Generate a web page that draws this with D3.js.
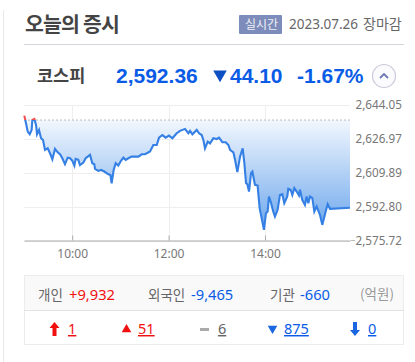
<!DOCTYPE html>
<html>
<head>
<meta charset="utf-8">
<script src="https://cdn.jsdelivr.net/npm/d3@7"></script>
<style>
  html, body { margin: 0; padding: 0; background: #fff; }
  svg { display: block; }
  text { font-family: "Noto Sans", "Noto Sans CJK KR", sans-serif; }
  .kr { font-family: "Noto Sans CJK KR", sans-serif; }
  .num { font-family: "Liberation Sans", sans-serif; }
</style>
</head>
<body>
<div id="chart"></div>
<script>
// minutes after 09:00
var minutes = [0.4,2.5,4.6,7.1,9.5,10.4,12.9,15,16.2,18.7,21.2,23.7,26.1,29.5,32.4,35.3,38.6,41.9,44.8,47.7,51,54.4,57.3,60.2,62.7,64.3,67.6,69.7,73.9,76.8,82.2,85,87.5,88.4,92.5,95.9,100,105,107.5,109.1,111.6,114.1,117.4,120.7,123.7,126.6,129.9,134,
  138.2,142.3,146.5,150.6,156.9,161,165.2,168.1,172.2,176.4,180.5,184.7,190.1,194.2,200.4,204.6,206.7,209.6,215,217.9,221.2,223.3,225.3,228.7,231.6,235.7,239.9,242.8,246.9,251.1,254.4,256.5,260.6,262.7,265.6,268.9,272.2,274.3,276.4,278,280.1,282.6,284.3,
  287.5,290.8,293.3,295.8,298.7,301.2,303.3,304.9,307,310.3,312.4,315.7,318.6,321.5,324,327.7,329,331.9,334,336.5,339.4,342.3,343.5,346.4,349.7,351.8,353.9,356,358.9,361.4,364.3,368.4,371.3,375.5,378,380.9,405.8];
var indexValues = [2638.7,2634.8,2630.6,2629.3,2631.5,2636.5,2637,2634,2629.3,2631.5,2627.3,2626.4,2621.4,2622.2,2619.7,2616.7,2621.9,2620.2,2619.2,2617.2,2614.2,2617.5,2617.2,2615.9,2613.5,2616.9,2616.4,2613.8,2615,2617.2,2618.9,2614.7,2614.2,2611.8,2610.8,2611.3,2610.5,2609.1,2608.8,2604.6,2611.3,2614.7,2613.5,2615.9,2617.5,2616.4,2617.2,2618,
  2618,2618,2619.2,2619.2,2620.6,2623.9,2623.9,2627.6,2628.9,2627.6,2628.6,2627.3,2629.8,2631,2632,2629.8,2631,2629.3,2631.5,2629.8,2628.9,2626.4,2622.2,2625.6,2624.7,2627.3,2626.9,2627.6,2625.3,2625.3,2623.9,2621.4,2620.2,2616.4,2610.2,2618,2622.2,2614.7,2604.6,2604.1,2600.4,2609.7,2610.5,
  2603.8,2603.4,2592,2587,2581.1,2589.5,2590.3,2597.9,2595.4,2590.3,2587.8,2591.2,2598.7,2599.1,2594.5,2597.9,2601.8,2601.3,2598.7,2602.1,2600.4,2598.4,2601.3,2596.2,2593.7,2597.9,2594.5,2597.9,2597.1,2590.3,2592.9,2588.7,2583.6,2590.3,2594,2591.7,2592.2];
var prevClose = 2636.46;
var priceTicks = [2644.05, 2626.97, 2609.89, 2592.80, 2575.72];
var timeTicks = [60, 180, 300];
var timeLabels = ["10:00", "12:00", "14:00"];

var investors = ["개인", "외국인", "기관"];
var investorValues = ["+9,932", "-9,465", "-660"];
var breadthCounts = ["1", "51", "6", "875", "0"];

var blue = "#0a5ce6", red = "#f01010", grey = "#666";

var svg = d3.select("#chart").append("svg").attr("width", 415).attr("height", 362);

var x = d3.scaleLinear().domain([0, 405.8]).range([24, 350]);
var y = d3.scaleLinear().domain([2575.72, 2644.05]).range([240.5, 105]);

function label(str, px, py, size, fill, cls, weight) {
  return svg.append("text").attr("x", px).attr("y", py)
    .attr("class", cls).attr("font-size", size).attr("fill", fill)
    .attr("font-weight", weight || "normal").text(str);
}

// frame and header
svg.append("line").attr("x1", 3.5).attr("x2", 3.5).attr("y1", 10).attr("y2", 362).attr("stroke", "#e8e8e8");
label("오늘의 증시", 25, 32, 20.5, "#444", "kr", "bold").attr("letter-spacing", -0.8);
svg.append("rect").attr("x", 239).attr("y", 15).attr("width", 43).attr("height", 19).attr("rx", 1).attr("fill", "#7d8cba");
label("실시간", 245, 29, 12, "#eef0f7", "kr");
label("2023.07.26", 289, 29, 13.5, grey);
label("장마감", 363, 29, 14, grey, "kr");
svg.append("line").attr("x1", 24).attr("x2", 404).attr("y1", 44.5).attr("y2", 44.5).attr("stroke", "#d4d4da");

label("코스피", 37, 82, 17.5, "#444", "kr", "bold");
label("2,592.36", 116, 83, 21, blue, "num", "bold");
svg.append("path").attr("d", d3.symbol(d3.symbolTriangle, 80)())
  .attr("transform", "translate(220,74.5) rotate(180)").attr("fill", "#0f4fc4");
label("44.10", 230, 83, 21, blue, "num", "bold");
label("-1.67%", 297, 83, 21, blue, "num", "bold");
svg.append("circle").attr("cx", 384).attr("cy", 76).attr("r", 11.5).attr("fill", "#fbfbfd").attr("stroke", "#c9cbdb").attr("stroke-width", 1.2);
svg.append("path").attr("d", "M380,78 L384,74 L388,78").attr("fill", "none").attr("stroke", "#6a78b5").attr("stroke-width", 1.8);

// chart
var defs = svg.append("defs");
var grad = defs.append("linearGradient").attr("id", "areaFill")
  .attr("gradientUnits", "userSpaceOnUse")
  .attr("x1", 0).attr("x2", 0).attr("y1", y(prevClose)).attr("y2", y(2580));
grad.append("stop").attr("offset", 0).attr("stop-color", "#f2f7fe");
grad.append("stop").attr("offset", 1).attr("stop-color", "#6aa5ec");

defs.append("clipPath").attr("id", "below").append("rect")
  .attr("x", 0).attr("width", 415).attr("y", y(prevClose)).attr("height", 200);
defs.append("clipPath").attr("id", "above").append("rect")
  .attr("x", 0).attr("width", 415).attr("y", 0).attr("height", y(prevClose));

var yAxis = d3.axisRight(y).tickValues(priceTicks).tickSize(0).tickPadding(5).tickFormat(d3.format(",.2f"));
var yG = svg.append("g").attr("transform", "translate(350.5,0)").call(yAxis);
yG.select(".domain").remove();
yG.selectAll("text").attr("font-size", 11.7).attr("fill", "#777");

svg.append("g").selectAll("line").data(priceTicks).enter().append("line")
  .attr("x1", 24).attr("x2", 350)
  .attr("y1", function(d) { return Math.round(y(d)) + 0.5; })
  .attr("y2", function(d) { return Math.round(y(d)) + 0.5; })
  .attr("stroke", "#eeeeee");
svg.append("g").selectAll("line").data(timeTicks).enter().append("line")
  .attr("x1", function(d) { return Math.round(x(d)) + 0.5; })
  .attr("x2", function(d) { return Math.round(x(d)) + 0.5; })
  .attr("y1", 105).attr("y2", 240)
  .attr("stroke", "#eeeeee");

var pts = minutes.map(function(m, i) { return [m, indexValues[i]]; });

var area = d3.area()
  .x(function(d) { return x(d[0]); })
  .y0(y(prevClose))
  .y1(function(d) { return y(d[1]); });
svg.append("path").datum(pts).attr("d", area)
  .attr("fill", "url(#areaFill)").attr("clip-path", "url(#below)");

svg.append("line").attr("x1", 24).attr("x2", 350)
  .attr("y1", y(prevClose)).attr("y2", y(prevClose))
  .attr("stroke", "#bbb").attr("stroke-dasharray", "2,2");

var line = d3.line()
  .x(function(d) { return x(d[0]); })
  .y(function(d) { return y(d[1]); });
svg.append("path").datum(pts).attr("d", line).attr("fill", "none")
  .attr("stroke", "#3580e4").attr("stroke-width", 2.1).attr("clip-path", "url(#below)");
svg.append("path").datum(pts).attr("d", line).attr("fill", "none")
  .attr("stroke", "#f05050").attr("stroke-width", 2.1).attr("clip-path", "url(#above)");

var xAxis = d3.axisBottom(x).tickValues(timeTicks).tickSizeInner(-5).tickSizeOuter(0).tickPadding(9)
  .tickFormat(function(d, i) { return timeLabels[i]; });
var xG = svg.append("g").attr("transform", "translate(0,240.5)").call(xAxis);
xG.select(".domain").attr("stroke", "#aaa");
xG.selectAll("line").attr("stroke", "#aaa");
xG.selectAll("text").attr("font-size", 12).attr("fill", "#777");
svg.append("line").attr("x1", 351).attr("x2", 355).attr("y1", 240.5).attr("y2", 240.5).attr("stroke", "#bbb");

// investor table
svg.append("rect").attr("x", 24.5).attr("y", 275.5).attr("width", 379).attr("height", 69).attr("fill", "#fff").attr("stroke", "#ececec");
svg.append("rect").attr("x", 25).attr("y", 276).attr("width", 378).attr("height", 34).attr("fill", "#f9f9f9");
svg.append("line").attr("x1", 24).attr("x2", 404).attr("y1", 310.5).attr("y2", 310.5).attr("stroke", "#e2e2e2");

var investorNameX = [38, 148, 270];
var investorValueX = [69, 191, 300];
investors.forEach(function(name, i) {
  label(name, investorNameX[i], 300, 13.5, grey, "kr");
  label(investorValues[i], investorValueX[i], 300, 14.7, i == 0 ? red : blue);
});
label("(억원)", 360, 299, 13.5, "#999", "kr");

var countX = [68, 138, 218, 284, 368];
var countColors = [red, red, grey, blue, blue];
breadthCounts.forEach(function(c, i) {
  label(c, countX[i], 334, 14.5, countColors[i]).attr("text-decoration", "underline");
});
svg.append("path").attr("d", "M54.5,322 L59.5,328 L56.5,328 L56.5,336 L52.5,336 L52.5,328 L49.5,328 Z").attr("fill", red);
svg.append("path").attr("d", d3.symbol(d3.symbolTriangle, 40)()).attr("transform", "translate(126.5,329.5)").attr("fill", red);
svg.append("rect").attr("x", 200).attr("y", 328).attr("width", 9).attr("height", 3).attr("fill", "#aaa");
svg.append("path").attr("d", d3.symbol(d3.symbolTriangle, 40)()).attr("transform", "translate(272.5,328.5) rotate(180)").attr("fill", "#1a66e0");
svg.append("path").attr("d", "M355,336 L350,330 L353,330 L353,322 L357,322 L357,330 L360,330 Z").attr("fill", "#1a66e0");
</script>
</body>
</html>
